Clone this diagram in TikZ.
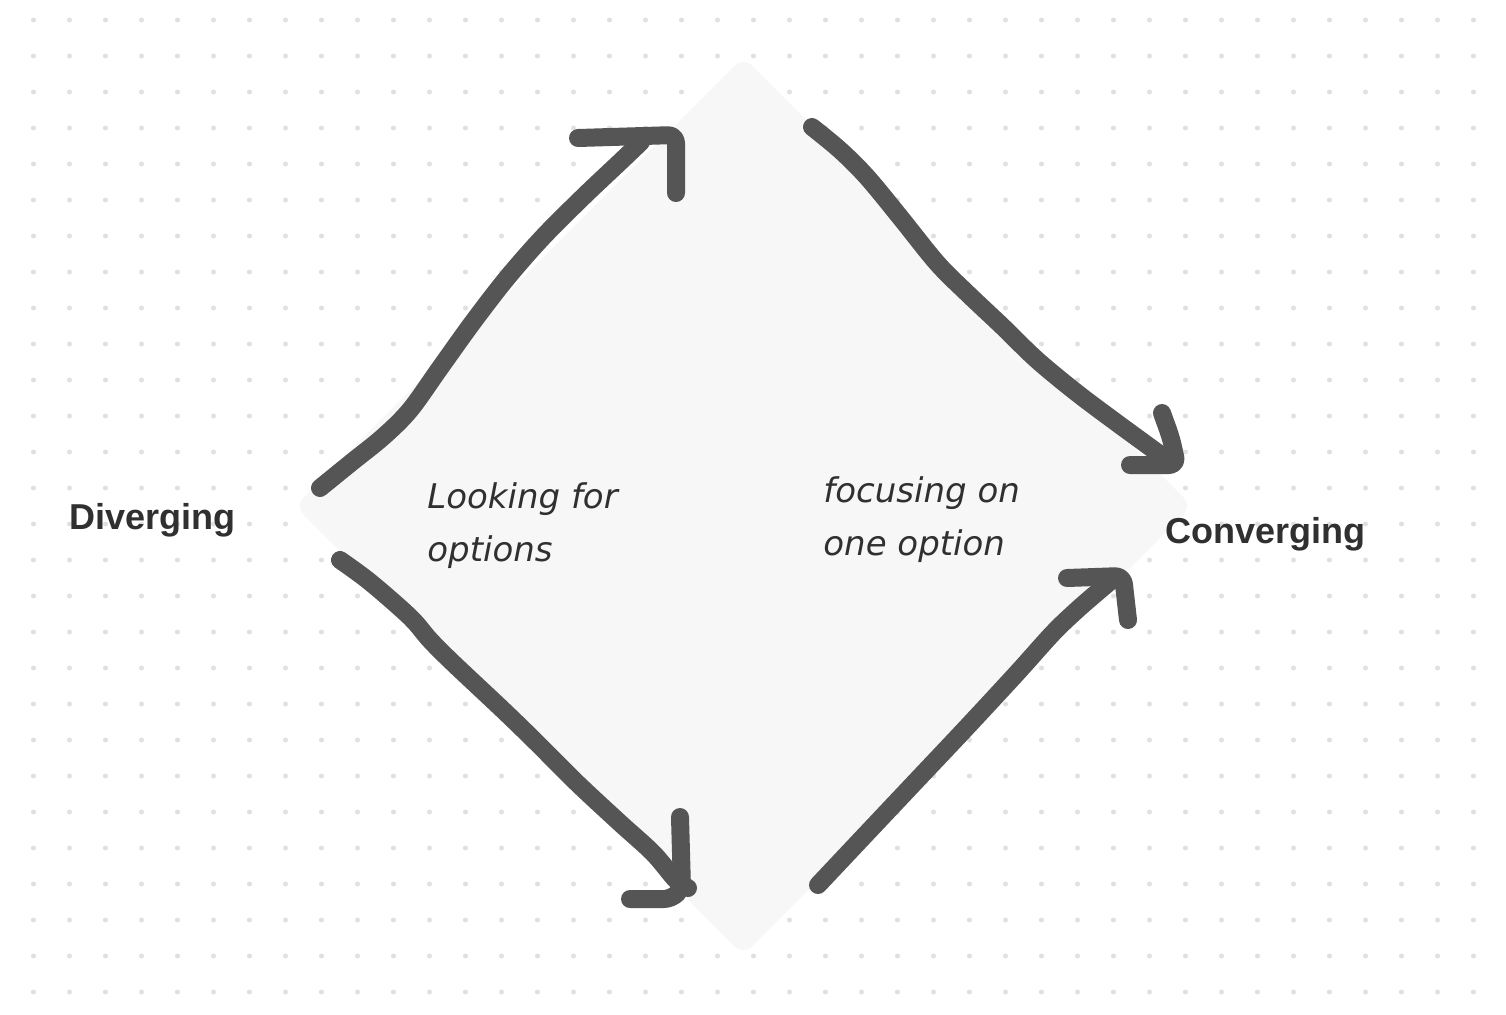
\documentclass[tikz,border=0pt]{standalone}
\usepackage{fontspec}
\setmainfont{Liberation Sans}
\newfontfamily\obfont{DejaVu Sans}
\definecolor{inkarrow}{HTML}{555555}
\definecolor{inktext}{HTML}{303030}
\definecolor{diafill}{HTML}{F7F7F7}
\definecolor{dotgrey}{HTML}{E0E0E0}
\tikzset{
  stroke/.style={draw=inkarrow, line width=9pt, line cap=round, line join=round},
  headstroke/.style={stroke, rounded corners=4pt},
  boldlabel/.style={font=\fontsize{18}{22}\selectfont\bfseries, text=inktext, inner sep=0pt, anchor=base west},
  itlabel/.style={font=\obfont\fontsize{17}{20}\selectfont\itshape, text=inktext, inner sep=0pt, anchor=base west},
}
\begin{document}
\begin{tikzpicture}[x=0.5pt,y=-0.5pt]
\useasboundingbox (0,0) rectangle (1506,1014);
\fill[white] (0,0) rectangle (1506,1014);
% dot grid
\foreach \i in {-1,...,40} {
  \foreach \j in {0,...,27} {
    \fill[dotgrey] ({33.5+36*\i},{20+36*\j}) circle[radius=2.5];
  }
}
% diamond
\fill[diafill, rounded corners=6pt] (743.5,57) -- (1192,506) -- (743.5,955) -- (295,506) -- cycle;
% labels
\node[boldlabel] (div) at (69,529) {Diverging};
\node[boldlabel] (conv) at (1165,543) {Converging};
\node[itlabel] (look1) at (427,508) {Looking for};
\node[itlabel] (look2) at (427,561) {options};
\node[itlabel] (foc1) at (823,502) {focusing on};
\node[itlabel] (foc2) at (823,555) {one option};
% arrow 1: diverging up
\draw[stroke] plot[smooth, tension=0.55] coordinates {(320,488) (352,462) (383,437) (410,410) (440,368) (473,322) (507,278) (543,237) (583,197) (620,162) (641,142)};
\draw[headstroke] (578,138) -- (676,135) -- (676,193);
% arrow 2: top to converging
\draw[stroke] plot[smooth, tension=0.55] coordinates {(812,127) (840,150) (867,177) (900,217) (937,263) (967,293) (1003,327) (1037,360) (1077,393) (1117,423) (1165,458)};
\draw[headstroke] (1162,413) -- (1171,438) -- (1177,465) -- (1130,465);
% arrow 3: diverging down
\draw[stroke] plot[smooth, tension=0.55] coordinates {(340,560) (370,582) (410,617) (430,640) (453,663) (503,710) (537,743) (577,783) (620,823) (653,853) (676,880) (688,888)};
\draw[headstroke] (680,817) -- (682,888) -- (672,899) -- (630,899);
% arrow 4: bottom to converging
\draw[stroke] plot[smooth, tension=0.55] coordinates {(818,885) (867,833) (917,780) (967,727) (1017,673) (1053,633) (1077,610) (1100,590) (1112,580)};
\draw[headstroke] (1067,578) -- (1123,576) -- (1128,620);
\end{tikzpicture}
\end{document}
